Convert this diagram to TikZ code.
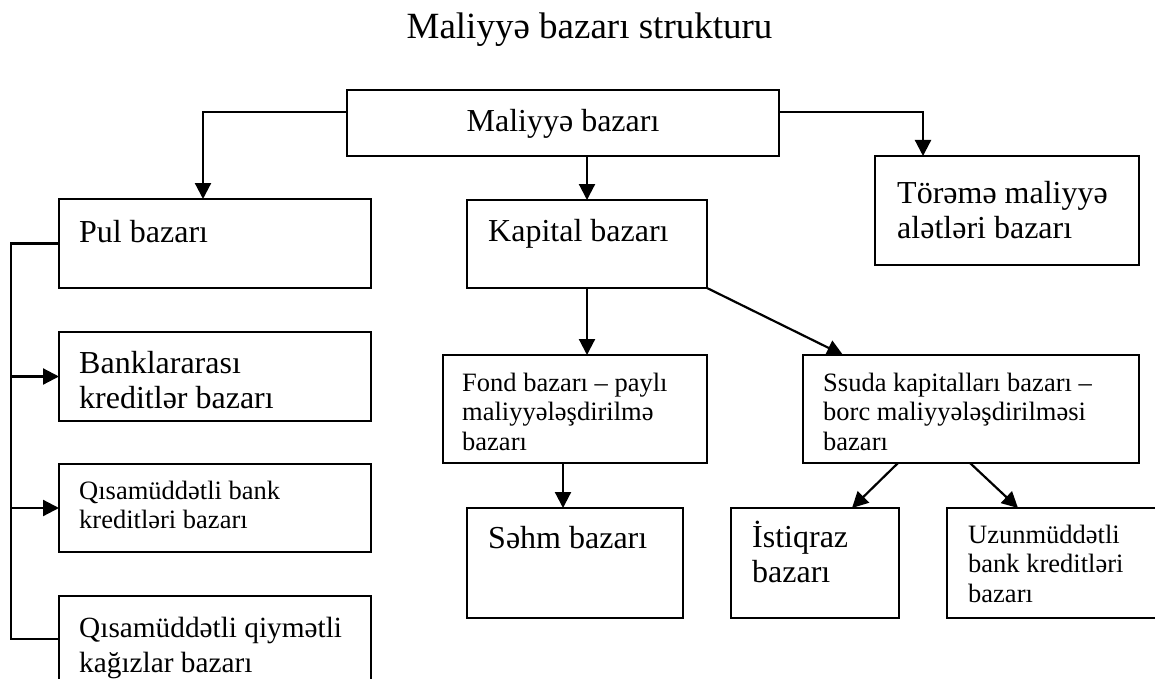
\documentclass[tikz,border=0pt]{standalone}
\usepackage{fontspec}
\setmainfont{Liberation Serif}
\usetikzlibrary{arrows.meta,calc}
\newcommand{\mylines}[1]{\vtop{\halign{##\hfil\cr#1\crcr}}}
\begin{document}
\begin{tikzpicture}[x=1pt,y=-1pt,
  bx/.style={draw, line width=2.2pt, anchor=north west, inner sep=0pt, outer sep=0pt},
  bigt/.style={anchor=base west, inner sep=0pt, font=\fontsize{32}{35.5}\selectfont},
  midt/.style={anchor=base west, inner sep=0pt, font=\fontsize{29.3}{35}\selectfont},
  smt/.style={anchor=base west, inner sep=0pt, font=\fontsize{26.5}{29.8}\selectfont},
  ln/.style={line width=2.2pt},
  arr/.style={ln, -{Triangle[length=16pt,width=16pt]}}]
\path[use as bounding box, clip] (0,0) rectangle (1155,679);

% title
\node[anchor=base, inner sep=0pt, font=\fontsize{37}{42}\selectfont] (title) at (589.5,39) {Maliyyə bazarı strukturu};

% boxes
\node[bx, minimum width=432pt, minimum height=66pt] (mb) at (347,90) {};
\node[bx, minimum width=312pt, minimum height=89pt] (pul) at (59,199) {};
\node[bx, minimum width=312pt, minimum height=89pt] (bank) at (59,332) {};
\node[bx, minimum width=312pt, minimum height=88pt] (qbank) at (59,464) {};
\node[bx, minimum width=312pt, minimum height=110pt] (qkag) at (59,596) {};
\node[bx, minimum width=240pt, minimum height=88pt] (kap) at (467,200) {};
\node[bx, minimum width=264pt, minimum height=109pt] (tor) at (875,156) {};
\node[bx, minimum width=264pt, minimum height=108pt] (fond) at (443,355) {};
\node[bx, minimum width=336pt, minimum height=108pt] (ssuda) at (803,355) {};
\node[bx, minimum width=216pt, minimum height=110pt] (sehm) at (467,508) {};
\node[bx, minimum width=168pt, minimum height=110pt] (istiq) at (731,508) {};
\node[bx, minimum width=230pt, minimum height=110pt] (uzun) at (947,508) {};

% texts
\node[anchor=base, inner sep=0pt, font=\fontsize{32}{35.5}\selectfont] (tmb) at ($(mb.north)+(0,42)$) {Maliyyə bazarı};
\node[bigt] (tpul) at ($(pul.north west)+(20,43)$) {Pul bazarı};
\node[bigt] (tbank) at ($(bank.north west)+(20,41)$) {\mylines{Banklararası\cr kreditlər bazarı}};
\node[smt] (tqbank) at ($(qbank.north west)+(20,35)$) {\mylines{Qısamüddətli bank\cr kreditləri bazarı}};
\node[midt] (tqkag) at ($(qkag.north west)+(20,41)$) {\mylines{Qısamüddətli qiymətli\cr kağızlar bazarı}};
\node[bigt] (tkap) at ($(kap.north west)+(21,41)$) {Kapital bazarı};
\node[bigt] (ttor) at ($(tor.north west)+(22,47)$) {\mylines{Törəmə maliyyə\cr alətləri bazarı}};
\node[smt] (tfond) at ($(fond.north west)+(19,36)$) {\mylines{Fond bazarı – paylı\cr maliyyələşdirilmə\cr bazarı}};
\node[smt] (tssuda) at ($(ssuda.north west)+(20,36)$) {\mylines{Ssuda kapitalları bazarı –\cr borc maliyyələşdirilməsi\cr bazarı}};
\node[bigt] (tsehm) at ($(sehm.north west)+(21,40)$) {Səhm bazarı};
\node[bigt] (tistiq) at ($(istiq.north west)+(21,39)$) {\mylines{İstiqraz\cr bazarı}};
\node[smt] (tuzun) at ($(uzun.north west)+(21,35)$) {\mylines{Uzunmüddətli\cr bank kreditləri\cr bazarı}};

% connectors
\draw[arr] ([yshift=-22pt]mb.north west) -| ([xshift=144pt]pul.north west);
\draw[arr] ([yshift=-22pt]mb.north east) -| ([xshift=48pt]tor.north west);
\draw[arr] (kap.north |- mb.south) -- (kap.north);
\draw[arr] (kap.south) -- (kap.south |- fond.north);
\draw[arr] (kap.south east) -- ([xshift=40pt]ssuda.north west);
\draw[arr] ([xshift=120pt]fond.south west) -- ([xshift=120pt]fond.south west |- sehm.north);
\draw[arr] ([xshift=95pt]ssuda.south west) -- ([xshift=121pt]istiq.north west);
\draw[arr] ([xshift=167pt]ssuda.south west) -- ([xshift=71pt]uzun.north west);

\coordinate (brtop) at (11,243.5);
\coordinate (brbot) at (11,639);
\draw[ln] (pul.west) -- (brtop) -- (brbot) -- (brbot -| qkag.west);
\draw[arr] (brtop |- bank.west) -- (bank.west);
\draw[arr] (brtop |- qbank.west) -- (qbank.west);
\end{tikzpicture}
\end{document}
